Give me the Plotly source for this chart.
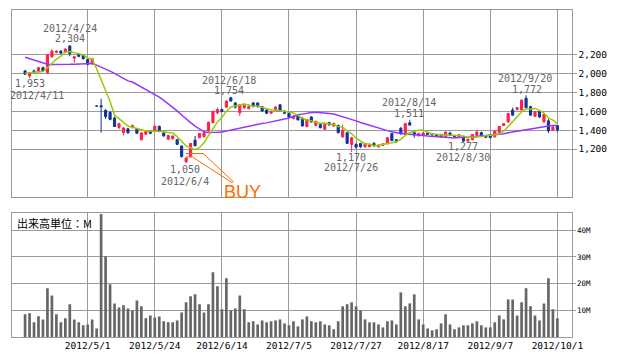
import pandas as pd
import plotly.graph_objects as go

# ---------------- data ----------------
holidays = ["2012-04-30", "2012-05-03", "2012-05-04", "2012-07-16", "2012-09-17"]
days = [d for d in pd.bdate_range("2012-04-10", "2012-10-01") if d.strftime("%Y-%m-%d") not in holidays]
dates = [f"{d.year}/{d.month}/{d.day}" for d in days]

opens = [2030, 1976, 2030, 2022, 2065, 2010, 2180, 2228, 2240, 2230,
         2295, 2165, 2205, 2195, 2150, 2105, 1657, 1660, 1610, 1590,
         1530, 1430, 1375, 1415, 1428, 1415, 1300, 1358, 1390, 1392,
         1442, 1372, 1305, 1310, 1300, 1232, 1065, 1120, 1295, 1320,
         1330, 1395, 1480, 1585, 1620, 1645, 1745, 1690, 1585, 1640,
         1630, 1690, 1690, 1650, 1615, 1580, 1615, 1670, 1605, 1580,
         1525, 1560, 1530, 1440, 1540, 1452, 1462, 1410, 1480, 1445,
         1450, 1330, 1373, 1250, 1250, 1260, 1225, 1225, 1260, 1225,
         1240, 1255, 1365, 1300, 1420, 1360, 1480, 1375, 1340, 1345,
         1370, 1362, 1352, 1355, 1332, 1370, 1345, 1328, 1330, 1285,
         1300, 1345, 1375, 1345, 1350, 1330, 1375, 1450, 1488, 1615,
         1620, 1615, 1740, 1650, 1548, 1598, 1490, 1500, 1400, 1450]
highs = [2040, 2020, 2045, 2075, 2075, 2205, 2260, 2250, 2250, 2270,
         2304, 2190, 2220, 2205, 2160, 2170, 1657, 1735, 1625, 1600,
         1545, 1480, 1430, 1425, 1460, 1425, 1380, 1395, 1400, 1450,
         1450, 1380, 1350, 1345, 1310, 1240, 1110, 1265, 1340, 1370,
         1385, 1490, 1610, 1640, 1630, 1720, 1754, 1700, 1680, 1690,
         1660, 1700, 1695, 1655, 1625, 1600, 1660, 1675, 1610, 1585,
         1560, 1570, 1535, 1520, 1550, 1500, 1470, 1465, 1490, 1480,
         1460, 1460, 1380, 1330, 1260, 1265, 1262, 1255, 1275, 1250,
         1262, 1325, 1370, 1305, 1435, 1480, 1511, 1390, 1375, 1380,
         1378, 1368, 1360, 1360, 1385, 1385, 1350, 1355, 1335, 1310,
         1360, 1402, 1385, 1350, 1355, 1395, 1445, 1475, 1585, 1640,
         1645, 1725, 1772, 1660, 1603, 1605, 1575, 1520, 1440, 1455]
lows = [1990, 1953, 2005, 2015, 2020, 2000, 2170, 2215, 2205, 2220,
        2185, 2118, 2175, 2150, 2090, 2095, 1657, 1375, 1520, 1505,
        1435, 1410, 1345, 1360, 1420, 1360, 1290, 1350, 1360, 1385,
        1380, 1330, 1295, 1300, 1245, 1110, 1050, 1115, 1230, 1315,
        1325, 1385, 1475, 1570, 1590, 1640, 1705, 1630, 1550, 1625,
        1620, 1645, 1640, 1600, 1570, 1575, 1610, 1600, 1570, 1535,
        1515, 1505, 1440, 1430, 1480, 1440, 1420, 1405, 1450, 1440,
        1365, 1320, 1255, 1170, 1205, 1210, 1215, 1220, 1225, 1215,
        1230, 1250, 1285, 1265, 1350, 1350, 1445, 1320, 1335, 1340,
        1350, 1345, 1338, 1325, 1325, 1340, 1325, 1320, 1277, 1280,
        1295, 1340, 1330, 1315, 1315, 1320, 1370, 1445, 1480, 1555,
        1610, 1610, 1635, 1555, 1545, 1530, 1480, 1370, 1395, 1380]
closes = [1995, 2012, 2015, 2065, 2030, 2200, 2240, 2238, 2220, 2262,
          2215, 2180, 2185, 2160, 2100, 2160, 1657, 1650, 1545, 1515,
          1440, 1470, 1425, 1375, 1450, 1368, 1372, 1390, 1368, 1442,
          1390, 1340, 1345, 1338, 1250, 1120, 1105, 1260, 1235, 1365,
          1372, 1485, 1600, 1620, 1600, 1708, 1710, 1645, 1670, 1665,
          1650, 1650, 1650, 1605, 1580, 1595, 1645, 1605, 1580, 1540,
          1550, 1510, 1445, 1515, 1488, 1495, 1427, 1462, 1455, 1472,
          1375, 1400, 1260, 1320, 1220, 1225, 1258, 1245, 1232, 1240,
          1255, 1320, 1290, 1285, 1365, 1470, 1455, 1350, 1365, 1370,
          1355, 1350, 1345, 1332, 1380, 1345, 1332, 1352, 1285, 1305,
          1355, 1380, 1340, 1325, 1322, 1390, 1440, 1470, 1578, 1560,
          1640, 1720, 1640, 1560, 1598, 1540, 1568, 1395, 1435, 1405]
volume_m = [8.5, 8.9, 5.5, 7.8, 6.6, 18.3, 15.6, 8.5, 5.5, 7.0,
            12.3, 6.6, 5.5, 4.4, 4.7, 6.6, 3.2, 46.1, 30.3, 19.8,
            12.6, 11.1, 11.9, 10.7, 9.9, 13.7, 11.5, 7.0, 8.1, 7.3,
            7.7, 5.9, 5.5, 5.5, 6.2, 9.2, 13.0, 15.3, 16.0, 12.3,
            9.2, 12.3, 24.3, 19.0, 10.4, 22.0, 10.0, 10.7, 15.6, 10.4,
            5.5, 5.9, 4.7, 6.2, 5.5, 5.9, 6.2, 6.6, 5.1, 4.4,
            5.9, 4.0, 6.6, 7.7, 5.9, 5.5, 5.9, 4.7, 4.4, 2.9,
            5.9, 11.5, 12.3, 13.0, 11.5, 10.0, 6.6, 5.5, 5.5, 4.7,
            3.6, 5.9, 6.2, 4.7, 16.7, 11.5, 12.6, 16.0, 6.6, 4.7,
            3.2, 2.5, 2.9, 5.1, 8.5, 4.7, 2.9, 3.6, 4.4, 4.4,
            5.1, 5.9, 4.4, 3.6, 3.6, 5.5, 8.1, 6.6, 14.1, 14.1,
            8.1, 13.0, 18.3, 11.5, 8.1, 6.2, 12.6, 22.0, 10.4, 7.0]
ma5_head = [2005, 2008, 2012, 2018]
ma25_head = [2175, 2160, 2145, 2128, 2112, 2100, 2098, 2097, 2097, 2098,
             2100, 2102, 2104, 2106, 2108, 2110, 2092, 2073, 2051, 2028,
             2003, 1978, 1951, 1924]
price_ticks = [1200, 1400, 1600, 1800, 2000, 2200]
volume_ticks = [10, 20, 30, 40]
volume_tick_text = ["10M", "20M", "30M", "40M"]
date_ticks = ["2012/5/1", "2012/5/24", "2012/6/14", "2012/7/5",
              "2012/7/27", "2012/8/17", "2012/9/7", "2012/10/1"]
price_notes = [("2012/4/24", "2012/4/24", 28, 0), ("2012/4/24", "2,304", 38.7, 0),
               ("2012/4/11", "1,953", 83, 0.5), ("2012/4/11", "2012/4/11", 95, 7.5),
               ("2012/6/18", "2012/6/18", 80, -1.5), ("2012/6/18", "1,754", 90.7, -2),
               ("2012/6/4", "1,050", 169.3, -1.5), ("2012/6/4", "2012/6/4", 181, -1.5),
               ("2012/7/26", "1,170", 157.3, -1), ("2012/7/26", "2012/7/26", 167.7, -1),
               ("2012/8/14", "2012/8/14", 102.3, -0.5), ("2012/8/14", "1,511", 113.3, -1),
               ("2012/8/30", "1,277", 146.7, -0.5), ("2012/8/30", "2012/8/30", 157.7, -0.5),
               ("2012/9/20", "2012/9/20", 78.3, -1), ("2012/9/20", "1,772", 89.3, 0.5)]

assert len(dates) == len(closes) == len(volume_m)

s = pd.Series(closes, dtype=float)
ma5 = ma5_head + list(s.rolling(5).mean().iloc[len(ma5_head):])
ma25 = ma25_head + list(s.rolling(25).mean().iloc[len(ma25_head):])

# ---------------- style ----------------
OFF = 8                      # page body margin in the browser
W, H = 638 - OFF, 362 - OFF
RED = "#ff1f4b"
BLUE = "#12329a"
GREEN = "#99cc00"
PURPLE = "#9933ff"
GRID = "#9a9a9a"
ORANGE = "#ff6a00"
MONO = "DejaVu Sans Mono"

def fx(p):
    return (p - OFF) / W

def fy(p):
    return 1 - (p - OFF) / H

TOP = (10, 197)          # pixel top / bottom of the price panel
BOT = (212.7, 337)       # pixel top / bottom of the volume panel
PRANGE = [691, 2677]
VRANGE = [0, 46.6]
XDOM = [fx(12), fx(582.5)]
XRANGE = [-2.94, 122.17]

fig = go.Figure()
fig.add_trace(go.Candlestick(
    x=dates, open=opens, high=highs, low=lows, close=closes,
    increasing=dict(line=dict(color=RED, width=1), fillcolor=RED),
    decreasing=dict(line=dict(color=BLUE, width=1), fillcolor=BLUE),
    whiskerwidth=0, showlegend=False, hoverinfo="skip", xaxis="x", yaxis="y"))
fig.add_trace(go.Scatter(x=dates, y=ma25, mode="lines", line=dict(color=PURPLE, width=1.5),
                         showlegend=False, hoverinfo="skip", xaxis="x", yaxis="y"))
fig.add_trace(go.Scatter(x=dates, y=ma5, mode="lines", line=dict(color=GREEN, width=1.5),
                         showlegend=False, hoverinfo="skip", xaxis="x", yaxis="y"))
fig.add_trace(go.Bar(x=dates, y=volume_m, marker=dict(color="#666666", line=dict(width=0)),
                     showlegend=False, hoverinfo="skip", xaxis="x2", yaxis="y2"))

axis_common = dict(showgrid=True, gridcolor=GRID, gridwidth=1, showline=True, mirror=True,
                   linecolor=GRID, linewidth=1, zeroline=False)

annotations = []
for d, txt, ypix, xs in price_notes:
    annotations.append(dict(x=d, xref="x", y=fy(ypix), yref="paper", text=txt, showarrow=False,
                            xanchor="center", yanchor="middle", xshift=xs,
                            font=dict(family=MONO, size=10, color="#666666")))
annotations.append(dict(x=fx(247), xref="paper", y=fy(192), yref="paper", text="BUY", showarrow=False,
                        xanchor="center", yanchor="middle",
                        font=dict(family="Liberation Sans", size=18, color=ORANGE)))
annotations.append(dict(x=fx(15), xref="paper", y=fy(223), yref="paper", text="出来高単位：M",
                        showarrow=False, xanchor="left", yanchor="middle",
                        font=dict(family="Noto Sans CJK JP", size=11, color="#000000")))

callout = [((189, 153.5), (207, 153.5)), ((189, 157), (196, 157)),
           ((196, 157), (237, 183)), ((207, 153.5), (238, 182))]
shapes = [dict(type="line", xref="paper", yref="paper", x0=fx(a[0]), y0=fy(a[1]), x1=fx(b[0]), y1=fy(b[1]),
               line=dict(color=ORANGE, width=1)) for a, b in callout]

fig.update_layout(
    width=W, height=H, margin=dict(l=0, r=0, t=0, b=0),
    paper_bgcolor="white", plot_bgcolor="white", hovermode=False,
    font=dict(family=MONO, size=10, color="#000000"),
    bargap=0.4, boxgap=0.32,
    xaxis=dict(domain=XDOM, anchor="y", type="category", range=XRANGE, tickvals=date_ticks,
               showticklabels=False, ticks="", rangeslider=dict(visible=False), **axis_common),
    yaxis=dict(domain=[fy(TOP[1]), fy(TOP[0])], anchor="x", range=PRANGE, side="right",
               tickvals=price_ticks, tickformat=",d", ticks="outside", ticklen=4, tickcolor=GRID,
               tickfont=dict(family=MONO, size=9.5, color="#000000"), **axis_common),
    xaxis2=dict(domain=XDOM, anchor="y2", type="category", range=XRANGE, tickvals=date_ticks,
                ticktext=date_ticks, ticks="", tickfont=dict(family=MONO, size=9.5, color="#000000"),
                rangeslider=dict(visible=False), **axis_common),
    yaxis2=dict(domain=[fy(BOT[1]), fy(BOT[0])], anchor="x2", range=VRANGE, side="right",
                tickvals=volume_ticks, ticktext=volume_tick_text, ticks="outside", ticklen=3,
                tickcolor=GRID, tickfont=dict(family=MONO, size=7.5, color="#000000"), **axis_common),
    annotations=annotations, shapes=shapes,
)

fig.write_html("out.html")
